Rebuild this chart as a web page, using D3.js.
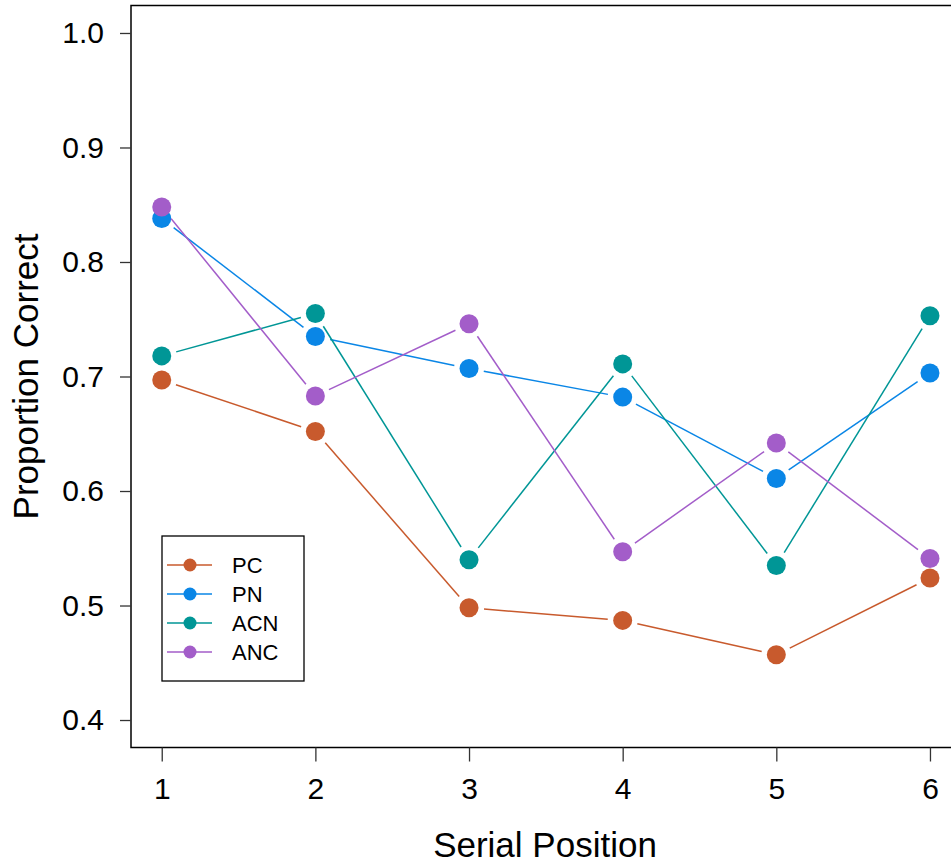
<!DOCTYPE html>
<html>
<head>
<meta charset="utf-8">
<script src="https://cdn.jsdelivr.net/npm/d3@7"></script>
<style>
  body { margin: 0; background: #fff; }
  svg text { font-family: "Liberation Sans", Arial, Helvetica, sans-serif; fill: #000; }
</style>
</head>
<body>
<div class="chart"></div>
<script>
var positions = [1, 2, 3, 4, 5, 6];
var seriesNames = ["PC", "PN", "ACN", "ANC"];
var seriesColors = ["#C85A2D", "#0A86E6", "#009696", "#A35DC9"];
var pc  = [0.697, 0.652, 0.498, 0.487, 0.457, 0.524];
var pn  = [0.838, 0.735, 0.707, 0.682, 0.611, 0.703];
var acn = [0.718, 0.755, 0.540, 0.711, 0.535, 0.753];
var anc = [0.848, 0.683, 0.746, 0.547, 0.642, 0.541];
var yTicks = [0.4, 0.5, 0.6, 0.7, 0.8, 0.9, 1.0];

var series = [pc, pn, acn, anc].map(function(vals, i) {
  return { name: seriesNames[i], color: seriesColors[i], values: vals };
});

var width = 951, height = 863;
var svg = d3.select(".chart").append("svg")
    .attr("width", width)
    .attr("height", height);

// R style: 4% padding around the data range
var x = d3.scaleLinear().domain([0.8, 6.2]).range([131, 960.7]);
var y = d3.scaleLinear().domain([0.376, 1.024]).range([747.5, 5.5]);

// box
svg.append("rect")
    .attr("x", x(0.8)).attr("y", y(1.024))
    .attr("width", x(6.2) - x(0.8)).attr("height", y(0.376) - y(1.024))
    .attr("fill", "none").attr("stroke", "#000").attr("stroke-width", 1.5);

// x axis
var xAxis = svg.append("g")
    .attr("transform", "translate(0," + y(0.376) + ")")
    .call(d3.axisBottom(x).tickValues(positions).tickFormat(d3.format("d")).tickSize(14).tickPadding(16));
xAxis.select(".domain").remove();
xAxis.selectAll("line").attr("stroke", "#333").attr("stroke-width", 1.3);
xAxis.selectAll("text").style("font-size", "30px").attr("fill", "#000");

// y axis
var yAxis = svg.append("g")
    .attr("transform", "translate(" + x(0.8) + ",0)")
    .call(d3.axisLeft(y).tickValues(yTicks).tickFormat(d3.format(".1f")).tickSize(11).tickPadding(16));
yAxis.select(".domain").remove();
yAxis.selectAll("line").attr("stroke", "#333").attr("stroke-width", 1.3);
yAxis.selectAll("text").style("font-size", "30px").attr("fill", "#000");

// axis titles
svg.append("text")
    .attr("x", 545)
    .attr("y", 857)
    .attr("text-anchor", "middle")
    .style("font-size", "35px")
    .text("Serial Position");

svg.append("text")
    .attr("transform", "translate(38," + y(0.7) + ") rotate(-90)")
    .attr("text-anchor", "middle")
    .style("font-size", "35px")
    .text("Proportion Correct");

// lines with gaps around points (type = "b")
var gap = 15;
function segments(vals) {
  var segs = [];
  for (var i = 0; i < vals.length - 1; i++) {
    var x0 = x(positions[i]), y0 = y(vals[i]);
    var x1 = x(positions[i + 1]), y1 = y(vals[i + 1]);
    var dx = x1 - x0, dy = y1 - y0, len = Math.sqrt(dx * dx + dy * dy);
    if (len <= 2 * gap) continue;
    var ux = dx / len, uy = dy / len;
    segs.push([x0 + ux * gap, y0 + uy * gap, x1 - ux * gap, y1 - uy * gap]);
  }
  return segs;
}

series.forEach(function(s) {
  var g = svg.append("g");
  g.selectAll("line")
    .data(segments(s.values))
    .enter().append("line")
      .attr("x1", function(d) { return d[0]; })
      .attr("y1", function(d) { return d[1]; })
      .attr("x2", function(d) { return d[2]; })
      .attr("y2", function(d) { return d[3]; })
      .attr("stroke", s.color)
      .attr("stroke-width", 1.5);
  g.selectAll("circle")
    .data(s.values)
    .enter().append("circle")
      .attr("cx", function(d, i) { return x(positions[i]); })
      .attr("cy", function(d) { return y(d); })
      .attr("r", 9.5)
      .attr("fill", s.color);
});

// legend
var legend = svg.append("g");
legend.append("rect")
    .attr("x", 162).attr("y", 536)
    .attr("width", 142).attr("height", 145)
    .attr("fill", "#fff").attr("stroke", "#000").attr("stroke-width", 1.3);

var item = legend.selectAll(".item")
    .data(series)
    .enter().append("g")
      .attr("class", "item")
      .attr("transform", function(d, i) { return "translate(0," + (565 + i * 29) + ")"; });

item.append("line")
    .attr("x1", 167).attr("x2", 212)
    .attr("stroke", function(d) { return d.color; })
    .attr("stroke-width", 1.5);
item.append("circle")
    .attr("cx", 190).attr("r", 6.5)
    .attr("fill", function(d) { return d.color; });
item.append("text")
    .attr("x", 232).attr("dy", "0.36em")
    .style("font-size", "22px")
    .text(function(d) { return d.name; });
</script>
</body>
</html>
